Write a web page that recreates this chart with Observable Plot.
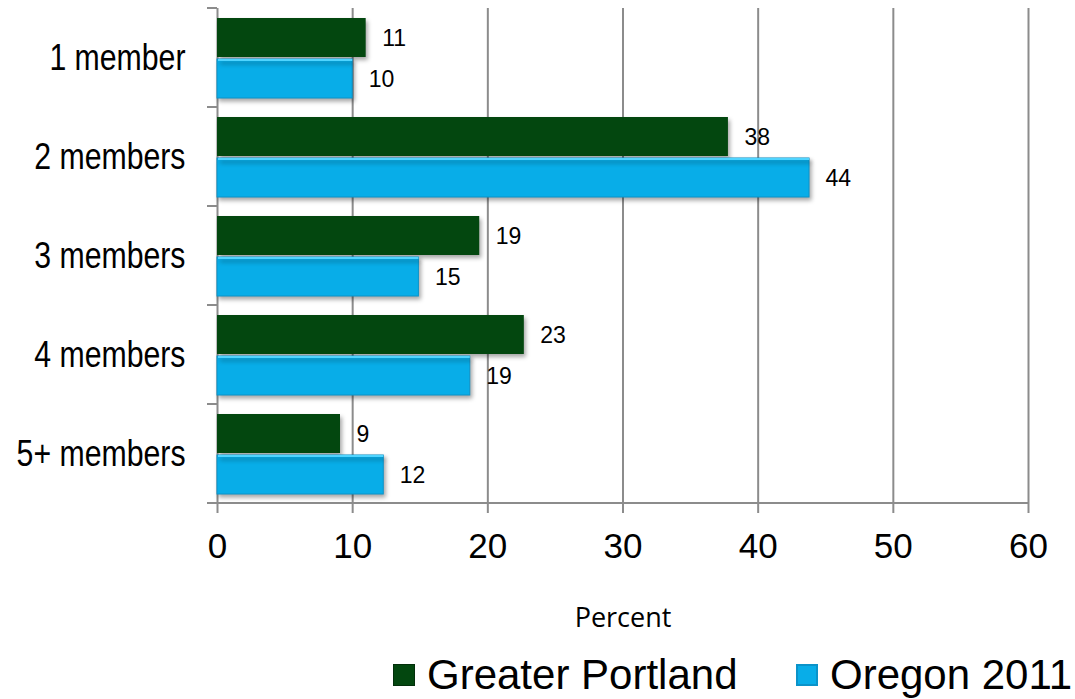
<!DOCTYPE html>
<html>
<head>
<meta charset="utf-8">
<script src="https://cdn.jsdelivr.net/npm/d3@7"></script>
<script src="https://cdn.jsdelivr.net/npm/@observablehq/plot@0.6"></script>
<style>
  html, body { margin: 0; padding: 0; background: #fff; }
  #chart svg { display: block; }
  g[aria-label="bar"] { filter: drop-shadow(2px 3px 2px rgba(0,0,0,0.35)); }
  .legend { height: 59px; position: relative; font-family: "Liberation Sans", Arial, sans-serif; font-size: 42px; color: #000; }
  .legend .item { position: absolute; top: 12px; display: flex; align-items: center; white-space: nowrap; line-height: 46px; }
  .legend .sw { width: 22px; height: 22px; margin-right: 12px; box-sizing: border-box; }
</style>
</head>
<body>
<div id="chart"></div>
<div class="legend" id="legend"></div>
<script>
// ---- data ----
const categories = ["1 member", "2 members", "3 members", "4 members", "5+ members"];
const seriesNames = ["Greater Portland", "Oregon 2011"];
const portland = [11.0, 37.8, 19.4, 22.7, 9.1];
const oregon = [10.0, 43.8, 14.9, 18.7, 12.3];
const xTicks = [0, 10, 20, 30, 40, 50, 60];
const axisTitle = "Percent";
const colors = ["#03470F", "#08ADE8"];
const legendLeft = [393, 796];

// ---- build table ----
const rows = categories.flatMap((c, i) => [
  {category: c, series: seriesNames[0], value: portland[i]},
  {category: c, series: seriesNames[1], value: oregon[i]}
]);
const gp = rows.filter(d => d.series === seriesNames[0]);
const or = rows.filter(d => d.series === seriesNames[1]);
const fmt = d3.format(".0f");
const gridColor = "#8c8c8c";

// category boundary ticks + baseline, drawn from the scales
function categoryFrame(index, scales, values, dims) {
  const y = scales.y, x = scales.x;
  const bw = y.bandwidth ? y.bandwidth() : (dims.height - dims.marginTop - dims.marginBottom) / categories.length;
  const edges = categories.map(c => y(c)).concat([y(categories[categories.length - 1]) + bw]);
  const x0 = x(xTicks[0]);
  const g = d3.create("svg:g").attr("stroke", gridColor).attr("stroke-width", 2);
  g.selectAll("line.e").data(edges).join("line")
    .attr("x1", x0 - 10).attr("x2", x0).attr("y1", d => d).attr("y2", d => d);
  g.append("line").attr("x1", x0 - 10).attr("x2", x(xTicks[xTicks.length - 1]))
    .attr("y1", edges[edges.length - 1]).attr("y2", edges[edges.length - 1]);
  return g.node();
}

const chart = Plot.plot({
  width: 1075,
  height: 640,
  marginLeft: 217,
  marginRight: 47,
  marginTop: 8,
  marginBottom: 137,
  style: {background: "#fff", overflow: "visible"},
  x: {domain: [0, 60], ticks: xTicks},
  y: {domain: categories, padding: 0},
  marks: [
    Plot.gridX(xTicks, {stroke: gridColor, strokeOpacity: 1, strokeWidth: 2}),
    Plot.axisX(xTicks, {tickSize: 10, tickPadding: 20, stroke: gridColor, strokeWidth: 2, fontSize: 35, fontFamily: "Liberation Sans, Arial, sans-serif", fill: "#000", label: null}),
    Plot.axisY({tickSize: 0, tickPadding: 32, fontSize: 36, fontFamily: "Liberation Sans, Arial, sans-serif", fill: "#000", label: null}),
    categoryFrame,
    Plot.barX(gp, {x: "value", y: "category", fill: colors[0], insetTop: 10, insetBottom: 50}),
    Plot.barX(or, {x: "value", y: "category", fill: colors[1], stroke: "#0b93c9", strokeWidth: 1, insetTop: 51, insetBottom: 9}),
    Plot.barX(or, {x: "value", y: "category", fill: "#4fd4ff", insetTop: 51, insetBottom: 46, insetLeft: 1}),
    Plot.text(gp, {x: "value", y: "category", text: d => fmt(d.value), dx: 16, dy: -19, textAnchor: "start", fontSize: 23, fontFamily: "Liberation Sans, Arial, sans-serif", fill: "#000"}),
    Plot.text(or, {x: "value", y: "category", text: d => fmt(d.value), dx: 16, dy: 22, textAnchor: "start", fontSize: 23, fontFamily: "Liberation Sans, Arial, sans-serif", fill: "#000"}),
    Plot.text([axisTitle], {frameAnchor: "bottom", dy: 123, fontSize: 27, fontFamily: "Open Sans, sans-serif", fill: "#000"})
  ]
});
document.getElementById("chart").appendChild(chart);

// condense the category labels horizontally (as in the reference)
d3.select(chart).selectAll('g[aria-label="y-axis tick label"] text').each(function () {
  const len = this.getComputedTextLength();
  if (len > 0) {
    this.setAttribute("textLength", (len * 0.84).toFixed(1));
    this.setAttribute("lengthAdjust", "spacingAndGlyphs");
  }
});

// legend
const legend = d3.select("#legend");
seriesNames.forEach((name, i) => {
  const item = legend.append("div").attr("class", "item").style("left", legendLeft[i] + "px");
  item.append("div").attr("class", "sw")
    .style("background", colors[i])
    .style("border", i === 1 ? "2px solid #0b93c9" : "1px solid #022f0a");
  item.append("span").text(name);
});
</script>
</body>
</html>
